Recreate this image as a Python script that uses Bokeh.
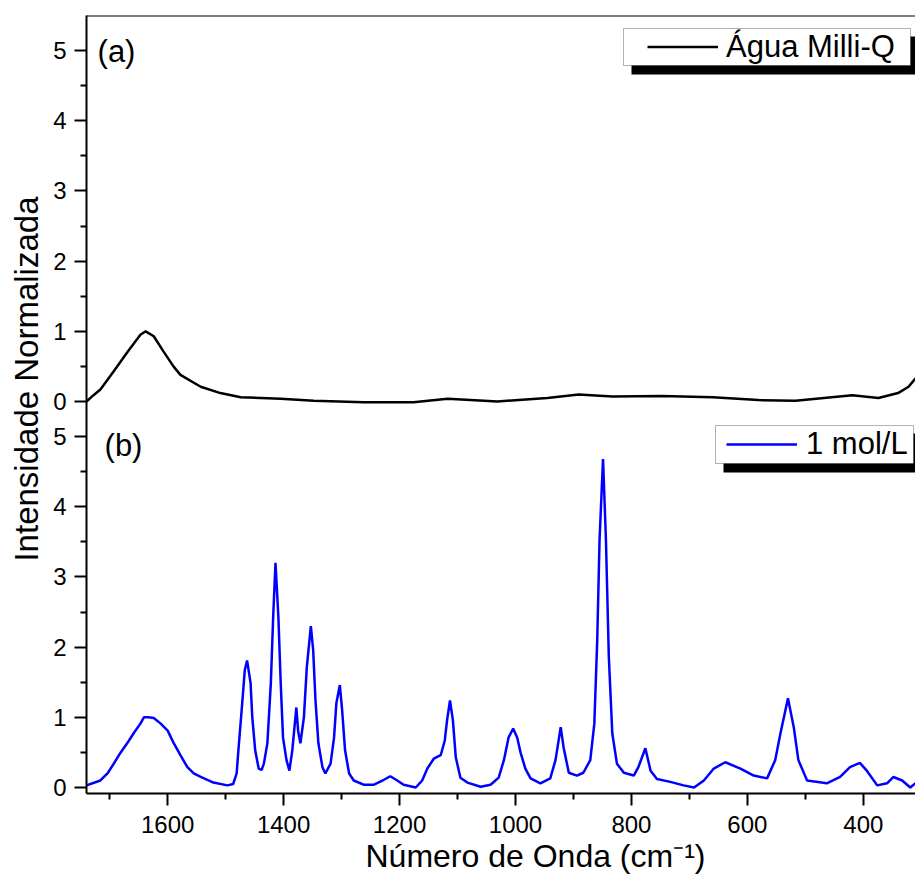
import math
from bokeh.plotting import figure
from bokeh.models import (Range1d, FixedTicker, Span, Label, Legend, LegendItem,
                          BoxAnnotation, Title)
from bokeh.embed import file_html
from bokeh.resources import INLINE

# ---------------- data ----------------
top_wn = [1740, 1728, 1716, 1693, 1669, 1647, 1638, 1624, 1607, 1590, 1578, 1543,
          1509, 1474, 1405, 1348, 1262, 1176, 1117, 1031, 945, 891, 833, 747,
          660, 581, 517, 419, 374, 340, 322, 310]
top_int = [0.00, 0.09, 0.17, 0.43, 0.71, 0.95, 1.00, 0.93, 0.71, 0.50, 0.38, 0.21,
           0.12, 0.06, 0.04, 0.01, -0.01, -0.01, 0.04, 0.00, 0.05, 0.10, 0.07, 0.08,
           0.06, 0.02, 0.01, 0.09, 0.05, 0.12, 0.21, 0.33]

blue_wn = [1740, 1716, 1703, 1693, 1681, 1669, 1659, 1647, 1641, 1633, 1624, 1612,
           1600, 1590, 1578, 1566, 1555, 1543, 1521, 1497, 1487, 1481, 1478, 1471,
           1467, 1463, 1457, 1454, 1449, 1443, 1438, 1434, 1428, 1422, 1418, 1414,
           1409, 1405, 1401, 1395, 1390, 1385, 1378, 1375, 1371, 1365, 1360, 1353,
           1349, 1345, 1340, 1333, 1328, 1319, 1313, 1309, 1303, 1299, 1294, 1287,
           1279, 1262, 1244, 1227, 1216, 1204, 1193, 1172, 1161, 1152, 1141, 1129,
           1122, 1118, 1113, 1108, 1103, 1095, 1083, 1060, 1043, 1029, 1020, 1012,
           1004, 997, 991, 983, 974, 957, 940, 931, 922, 917, 908, 894, 883, 871,
           864, 859, 855, 849, 844, 839, 833, 825, 813, 796, 788, 776, 767, 756,
           733, 710, 692, 675, 658, 638, 612, 589, 566, 552, 543, 530, 520, 512,
           497, 463, 440, 423, 406, 394, 376, 359, 348, 333, 319, 310]
blue_int = [0.03, 0.10, 0.21, 0.34, 0.50, 0.64, 0.77, 0.91, 1.00, 1.00, 0.99, 0.91,
            0.81, 0.64, 0.46, 0.29, 0.20, 0.15, 0.07, 0.03, 0.05, 0.20, 0.53, 1.24,
            1.67, 1.81, 1.49, 1.00, 0.53, 0.27, 0.25, 0.34, 0.63, 1.49, 2.43, 3.20,
            2.43, 1.49, 0.71, 0.39, 0.24, 0.53, 1.14, 0.81, 0.63, 1.00, 1.71, 2.30,
            1.96, 1.24, 0.63, 0.29, 0.20, 0.34, 0.71, 1.20, 1.46, 1.10, 0.53, 0.20,
            0.10, 0.04, 0.04, 0.11, 0.16, 0.10, 0.04, 0.00, 0.10, 0.27, 0.41, 0.46,
            0.67, 0.96, 1.24, 0.96, 0.43, 0.14, 0.07, 0.01, 0.04, 0.14, 0.39, 0.71,
            0.84, 0.71, 0.49, 0.27, 0.13, 0.06, 0.13, 0.39, 0.86, 0.57, 0.21, 0.17,
            0.21, 0.39, 0.91, 2.10, 3.53, 4.68, 3.53, 1.86, 0.77, 0.34, 0.21, 0.17,
            0.29, 0.56, 0.24, 0.12, 0.08, 0.03, 0.00, 0.10, 0.27, 0.36, 0.27, 0.17,
            0.13, 0.39, 0.77, 1.27, 0.86, 0.39, 0.10, 0.06, 0.15, 0.29, 0.35, 0.24,
            0.03, 0.06, 0.15, 0.10, 0.00, 0.06]

x_major = [1600, 1400, 1200, 1000, 800, 600, 400]
x_minor = [1700, 1500, 1300, 1100, 900, 700, 500, 300]
y_tick_values = [0, 1, 2, 3, 4, 5]
y_tick_labels = ["0", "1", "2", "3", "4", "5"]

label_top = "Água Milli-Q"
label_bottom = "1 mol/L"
x_title = "Número de Onda (cm⁻¹)"
y_title = "Intensidade Normalizada"

# ---------------- layout constants ----------------
FONT = "Liberation Sans"
PANEL_OFFSET = 5.5          # top panel zero sits at this value of the main y range
Y_LOW, Y_HIGH = -0.0855, 11.0
X_START, X_END = 1740, 310

p = figure(width=915, height=878, output_backend="svg", toolbar_location=None,
           x_range=Range1d(X_START, X_END), y_range=Range1d(Y_LOW, Y_HIGH),
           min_border_left=86, min_border_right=0, min_border_top=15,
           min_border_bottom=85)
p.extra_y_ranges = {"top": Range1d(Y_LOW - PANEL_OFFSET, Y_HIGH - PANEL_OFFSET)}
p.outline_line_color = None
p.grid.visible = False
p.background_fill_color = "white"

# axes styling
for ax in (p.xaxis[0], p.yaxis[0]):
    ax.axis_line_width = 2
    ax.axis_line_color = "black"
    ax.major_tick_line_width = 2
    ax.minor_tick_line_width = 2
    ax.major_tick_line_color = "black"
    ax.minor_tick_line_color = "black"
    ax.major_tick_in = 0
    ax.major_tick_out = 12
    ax.minor_tick_in = 0
    ax.minor_tick_out = 6
    ax.major_label_text_font = FONT
    ax.major_label_text_font_size = "24px"
    ax.major_label_text_color = "black"

p.xaxis[0].ticker = FixedTicker(ticks=x_major, minor_ticks=x_minor)
p.xaxis[0].major_label_standoff = 10

ymaj = [v for v in y_tick_values] + [v + PANEL_OFFSET for v in y_tick_values]
ymin = [v + 0.5 for v in y_tick_values[:-1]] + [v + 0.5 + PANEL_OFFSET for v in y_tick_values[:-1]]
p.yaxis[0].ticker = FixedTicker(ticks=ymaj, minor_ticks=ymin)
overrides = {}
for v, t in zip(y_tick_values, y_tick_labels):
    overrides[float(v)] = t
    overrides[float(v) + PANEL_OFFSET] = t
p.yaxis[0].major_label_overrides = overrides
p.yaxis[0].major_label_standoff = 8

# axis titles as side titles (placed in the border areas)
p.add_layout(Title(text=x_title, align="left", offset=365 - 86, standoff=0,
                   text_font=FONT, text_font_size="32px", text_font_style="normal",
                   text_color="black", vertical_align="bottom"), "below")
p.add_layout(Title(text=y_title, align="right", offset=181, standoff=8,
                   text_font=FONT, text_font_size="33px", text_font_style="normal",
                   text_color="black", vertical_align="top"), "left")

# top frame line
p.add_layout(Span(location=Y_HIGH, dimension="width", line_color="black", line_width=2))

# spectra
r_top = p.line(top_wn, top_int, y_range_name="top", line_color="black", line_width=2.5)
r_bot = p.line(blue_wn, blue_int, line_color="#0000ff", line_width=2.5)

# helpers to convert reference pixel positions to data positions (for decorations)
FRAME_L, FRAME_T = 86, 15
XPX = (915 - FRAME_L) / abs(X_END - X_START)
YPX = (793 - FRAME_T) / (Y_HIGH - Y_LOW)
def dx(px):
    return X_START - (px - FRAME_L) / XPX
def dy(py):
    return Y_HIGH - (py - FRAME_T) / YPX

# legend boxes + shadows
for (l, t, r, b) in [(623, 28, 910, 65), (715, 425, 913, 463)]:
    p.add_layout(BoxAnnotation(left=dx(l + 8), right=dx(r + 8), top=dy(t + 8), bottom=dy(b + 9),
                               fill_color="black", fill_alpha=1, line_color=None))
    p.add_layout(BoxAnnotation(left=dx(l), right=dx(r), top=dy(t), bottom=dy(b),
                               fill_color="white", fill_alpha=1, line_color="black",
                               line_width=1))

def make_legend(item_label, renderer, loc, glyph_w, standoff, h):
    lg = Legend(items=[LegendItem(label=item_label, renderers=[renderer])],
                location=loc, padding=0, margin=0, spacing=0,
                glyph_width=glyph_w, glyph_height=h, label_height=h,
                label_standoff=standoff, border_line_color=None,
                background_fill_alpha=0, label_text_font=FONT,
                label_text_font_size="31px", label_text_color="black")
    return lg

p.add_layout(make_legend(label_top, r_top, (647 - FRAME_L, 793 - 65), 71, 8, 37))
p.add_layout(make_legend(label_bottom, r_bot, (726 - FRAME_L, 793 - 463), 71, 9, 38))

# panel labels
p.add_layout(Label(x=dx(116), y=dy(51), text="(a)", text_align="center",
                   text_baseline="middle", text_font=FONT, text_font_size="31px",
                   text_color="black"))
p.add_layout(Label(x=dx(123), y=dy(445), text="(b)", text_align="center",
                   text_baseline="middle", text_font=FONT, text_font_size="31px",
                   text_color="black"))

open("out.html", "w").write(file_html(p, INLINE))
